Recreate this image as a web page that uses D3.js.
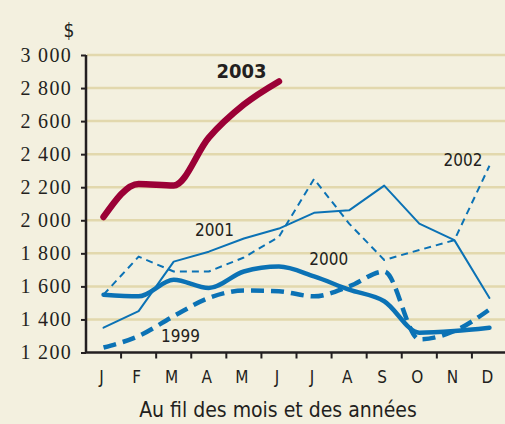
<!DOCTYPE html>
<html>
<head>
<meta charset="utf-8">
<script src="https://d3js.org/d3.v7.min.js"></script>
<style>
    body { margin: 0; background: #f3f0df; }
    svg { display: block; }
    .grid line { stroke: #e2d8ad; stroke-width: 2.5; }
    .lbl { font-family: "DejaVu Sans Condensed", "DejaVu Sans", sans-serif; fill: #231f20; }
</style>
</head>
<body>
<svg id="chart" width="505" height="424"></svg>
<script>
    // months / tick values
    var months = ["J", "F", "M", "A", "M", "J", "J", "A", "S", "O", "N", "D"];
    var yTicks = [1200, 1400, 1600, 1800, 2000, 2200, 2400, 2600, 2800, 3000];

    // values ($)
    var v1999 = [1230, 1300, 1420, 1530, 1575, 1570, 1540, 1600, 1690, 1280, 1330, 1460];
    var v2000 = [1550, 1540, 1640, 1590, 1690, 1720, 1660, 1580, 1510, 1320, 1330, 1350];
    var v2001 = [1350, 1450, 1750, 1810, 1890, 1950, 2045, 2060, 2210, 1980, 1880, 1530];
    var v2002 = [1550, 1780, 1690, 1690, 1775, 1900, 2250, 1980, 1760, 1820, 1880, 2330];
    var v2003 = [2020, 2220, 2210, 2500, 2700, 2840];

    var blue = "#0b72b5",
        red = "#9b0036",
        ink = "#231f20";

    var svg = d3.select("#chart");

    var x = d3.scaleBand()
        .domain(d3.range(12))
        .range([86, 507])
        .padding(0);

    var y = d3.scaleLinear()
        .domain([1200, 3000])
        .range([352.5, 55]);

    var xc = function(i) { return x(i) + x.bandwidth() / 2; };

    /* horizontal grid lines */
    svg.append("g")
        .attr("class", "grid")
        .selectAll("line")
        .data(yTicks.slice(1))
        .enter().append("line")
        .attr("x1", 87)
        .attr("x2", 505)
        .attr("y1", function(d) { return y(d); })
        .attr("y2", function(d) { return y(d); });

    function addLine(vals, width, dash, curve) {
        var line = d3.line()
            .x(function(d, i) { return xc(i); })
            .y(function(d) { return y(d); })
            .curve(curve);
        svg.append("path")
            .datum(vals)
            .attr("fill", "none")
            .attr("stroke", vals === v2003 ? red : blue)
            .attr("stroke-width", width)
            .attr("stroke-linecap", dash ? "butt" : "round")
            .attr("stroke-linejoin", "round")
            .attr("stroke-dasharray", dash || null)
            .attr("d", line);
    }

    addLine(v2002, 2, "7,5", d3.curveLinear);
    addLine(v2001, 2, null, d3.curveLinear);
    addLine(v1999, 4.5, "13,7", d3.curveMonotoneX);
    addLine(v2000, 4.5, null, d3.curveMonotoneX);
    addLine(v2003, 6.5, null, d3.curveMonotoneX);

    /* y axis */
    var fmt = function(d) { return d3.format(",")(d).replace(",", " "); };
    var yAxis = svg.append("g")
        .attr("transform", "translate(86,0)")
        .call(d3.axisLeft(y).tickValues(yTicks).tickSize(5).tickPadding(9).tickFormat(fmt));
    yAxis.select(".domain").attr("stroke", ink).attr("stroke-width", 2.5)
        .attr("d", "M0," + y(3000) + "V" + y(1200));
    yAxis.selectAll(".tick line").attr("stroke", ink).attr("stroke-width", 2);
    yAxis.selectAll(".tick text")
        .attr("fill", ink)
        .style("font-family", "'Liberation Serif', serif")
        .style("font-size", "20px")
        .style("letter-spacing", "1.3px");

    /* x axis: labels at month centres, ticks between months */
    var xAxis = svg.append("g")
        .attr("transform", "translate(0," + y(1200) + ")")
        .call(d3.axisBottom(x).tickSize(0).tickPadding(18).tickFormat(function(i) { return months[i]; }));
    xAxis.select(".domain").attr("stroke", ink).attr("stroke-width", 2.5)
        .attr("d", "M85,0H505");
    xAxis.selectAll(".tick text")
        .attr("fill", ink)
        .attr("dx", "-2")
        .style("font-family", "'DejaVu Sans Condensed', sans-serif")
        .style("font-size", "17px");
    xAxis.selectAll("line.sep")
        .data(d3.range(1, 12))
        .enter().append("line")
        .attr("class", "sep")
        .attr("x1", function(i) { return x(i); })
        .attr("x2", function(i) { return x(i); })
        .attr("y1", 0)
        .attr("y2", 6)
        .attr("stroke", ink)
        .attr("stroke-width", 2);

    /* texts */
    svg.append("text").attr("class", "lbl")
        .attr("x", 69).attr("y", 37)
        .attr("text-anchor", "middle")
        .style("font-size", "19px")
        .text("$");

    svg.append("text").attr("class", "lbl")
        .attr("x", 278).attr("y", 417)
        .attr("text-anchor", "middle")
        .style("font-size", "21px")
        .text("Au fil des mois et des années");

    svg.append("text").attr("class", "lbl")
        .attr("x", 241.5).attr("y", 78)
        .attr("text-anchor", "middle")
        .style("font-size", "20px")
        .style("font-weight", "bold")
        .text("2003");

    svg.append("text").attr("class", "lbl")
        .attr("x", 214.5).attr("y", 236)
        .attr("text-anchor", "middle")
        .style("font-size", "17px")
        .text("2001");

    svg.append("text").attr("class", "lbl")
        .attr("x", 328.7).attr("y", 265)
        .attr("text-anchor", "middle")
        .style("font-size", "17px")
        .text("2000");

    svg.append("text").attr("class", "lbl")
        .attr("x", 180.5).attr("y", 341.7)
        .attr("text-anchor", "middle")
        .style("font-size", "17px")
        .text("1999");

    svg.append("text").attr("class", "lbl")
        .attr("x", 463).attr("y", 166)
        .attr("text-anchor", "middle")
        .style("font-size", "17px")
        .text("2002");
</script>
</body>
</html>
